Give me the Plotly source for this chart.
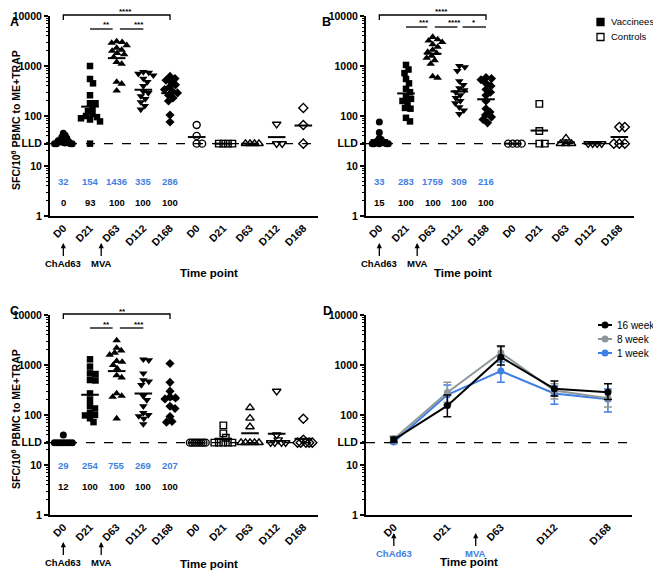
import math
import plotly.graph_objects as go

PAGE_OFFSET = 8  # default body margin of the html page
W, H = 661 - PAGE_OFFSET, 581 - PAGE_OFFSET
LLD = 28
days = ["D0", "D21", "D63", "D112", "D168"]

# ---------------- Panel A (16 week) ----------------
a_vacc_d0 = [45, 41, 38, 36, 35, 33, 32, 31, 30, 29, 28, 28, 28, 28]
a_vacc_d21 = [1000, 550, 450, 260, 180, 180, 145, 125, 110, 100, 95, 90, 85, 78, 28]
a_vacc_d63 = [3100, 3000, 2900, 2600, 2300, 2100, 2000, 1800, 1700, 1500, 1200, 1100, 480, 440, 320]
a_vacc_d112 = [760, 740, 700, 650, 560, 480, 400, 310, 290, 250, 220, 190, 160, 135]
a_vacc_d168 = [620, 560, 520, 480, 420, 380, 340, 310, 290, 260, 230, 200, 105, 76]
a_ctrl_d0 = [66, 40, 28, 28]
a_ctrl_d21 = [28, 28, 28, 28]
a_ctrl_d63 = [28, 28, 28, 28]
a_ctrl_d112 = [69, 28, 28]
a_ctrl_d168 = [145, 66, 28]
a_means = [32, 154, 1436, 335, 286]
a_responders = [0, 93, 100, 100, 100]

# ---------------- Panel B (8 week) ----------------
b_vacc_d0 = [76, 47, 36, 34, 32, 30, 30, 29, 28, 28, 28, 28, 28]
b_vacc_d21 = [1050, 850, 720, 550, 450, 350, 300, 240, 220, 200, 180, 145, 140, 92, 78]
b_vacc_d63 = [3800, 3400, 3200, 3000, 2700, 2400, 2100, 1900, 1800, 1600, 1450, 1300, 1100, 620, 580]
b_vacc_d112 = [1000, 950, 800, 500, 420, 360, 330, 300, 260, 230, 200, 180, 150, 130, 110]
b_vacc_d168 = [590, 560, 530, 450, 400, 340, 300, 260, 200, 140, 120, 105, 95, 85, 73]
b_ctrl_d0 = [28, 28, 28, 28]
b_ctrl_d21 = [175, 50, 28, 28]
b_ctrl_d63 = [36, 28, 28, 28]
b_ctrl_d112 = [28, 28, 28, 28]
b_ctrl_d168 = [60, 60, 28, 28, 28]
b_means = [33, 283, 1759, 309, 216]
b_responders = [15, 100, 100, 100, 100]

# ---------------- Panel C (1 week) ----------------
c_vacc_d0 = [40, 28, 28, 28, 28, 28, 28, 28]
c_vacc_d21 = [1300, 930, 680, 660, 500, 490, 270, 200, 150, 135, 110, 100, 98, 86, 72]
c_vacc_d63 = [3100, 2200, 1950, 1750, 1600, 1200, 1150, 1000, 850, 620, 560, 270, 240, 230, 85]
c_vacc_d112 = [1300, 1250, 680, 500, 470, 400, 240, 200, 150, 110, 100, 95, 85, 66]
c_vacc_d168 = [1070, 450, 300, 230, 220, 210, 150, 135, 93, 74, 72]
c_ctrl_d0 = [28, 28, 28, 28, 28, 28, 28, 28]
c_ctrl_d21 = [62, 43, 35, 28, 28, 28, 28, 28]
c_ctrl_d63 = [140, 86, 58, 28, 28, 28, 28, 28]
c_ctrl_d112 = [300, 40, 32, 28, 28, 28, 28]
c_ctrl_d168 = [84, 32, 28, 28, 28, 28, 28]
c_means = [29, 254, 755, 269, 207]
c_responders = [12, 100, 100, 100, 100]

# ---------------- Panel D (means with error bars) ----------------
week16_mean = a_means
week16_upper = [36, 250, 2400, 480, 420]
week16_lower = [29, 92, 1000, 240, 205]
week8_mean = b_means
week8_upper = [38, 450, 2300, 420, 300]
week8_lower = [28, 180, 1350, 210, 145]
week1_mean = c_means
week1_upper = [32, 400, 1150, 380, 330]
week1_lower = [27, 160, 450, 165, 115]

BLUE = "#3f7fe3"
GREY = "#8f979b"
FONT = "Liberation Sans"


def px(x):
    return (x - PAGE_OFFSET) / W


def py(y):
    return 1 - (y - PAGE_OFFSET) / H


# axis layout in window pixels: (left, right, top, bottom)
boxes = {
    "A": (50, 318, 16, 216),
    "B": (366, 634, 16, 216),
    "C": (50, 318, 315, 515),
    "D": (366, 632, 315, 515),
}
XR_ABC = [-0.5, 9.55]
XR_D = [-0.52, 4.45]

fig = go.Figure()


def swarm(values, center, unit_px, d=5.2, maxoff=12.0):
    n = len(values)
    order = sorted(range(n), key=lambda i: -values[i])
    placed = []
    offs = [0.0] * n
    cands = [0.0]
    for k in range(1, 80):
        cands += [k * 0.5, -k * 0.5]
    for i in order:
        yv = math.log10(values[i]) * 50
        chosen = cands[-1]
        for c in cands:
            if all((c - pxx) ** 2 + (yv - pyy) ** 2 >= d * d for pxx, pyy in placed):
                chosen = c
                break
        placed.append((chosen, yv))
        offs[i] = chosen
    m = max(abs(o) for o in offs) if offs else 0
    if m > maxoff:
        offs = [o * maxoff / m for o in offs]
    return [center + o / unit_px for o in offs]


def gmean(v):
    return 10 ** (sum(math.log10(x) for x in v) / len(v))


symbols = ["circle", "square", "triangle-up", "triangle-down", "diamond"]
sizes = [7, 6.5, 7.5, 7.5, 7]

panels_abc = [
    ("A", "", [a_vacc_d0, a_vacc_d21, a_vacc_d63, a_vacc_d112, a_vacc_d168],
     [a_ctrl_d0, a_ctrl_d21, a_ctrl_d63, a_ctrl_d112, a_ctrl_d168], a_means, a_responders),
    ("B", "2", [b_vacc_d0, b_vacc_d21, b_vacc_d63, b_vacc_d112, b_vacc_d168],
     [b_ctrl_d0, b_ctrl_d21, b_ctrl_d63, b_ctrl_d112, b_ctrl_d168], b_means, b_responders),
    ("C", "3", [c_vacc_d0, c_vacc_d21, c_vacc_d63, c_vacc_d112, c_vacc_d168],
     [c_ctrl_d0, c_ctrl_d21, c_ctrl_d63, c_ctrl_d112, c_ctrl_d168], c_means, c_responders),
]

annotations = []
shapes = []
layout_axes = {}

minor_vals = [m * 10 ** k for k in range(4) for m in range(2, 10)]


def yaxis_cfg(box):
    l, r, t, b = box
    return dict(
        type="log", range=[0, 4], domain=[py(b), py(t)], automargin=False,
        tickvals=[1, 10, LLD, 100, 1000, 10000],
        ticktext=["1", "10", "LLD", "100", "1000", "10000"],
        ticks="outside", ticklen=4, tickwidth=1.5, tickcolor="black",
        showline=True, linewidth=2, linecolor="black",
        showgrid=False, zeroline=False,
        minor=dict(tickvals=minor_vals, ticks="outside", ticklen=2.5, tickwidth=1, tickcolor="black", showgrid=False),
        tickfont=dict(family=FONT, size=10.5, color="black", weight="bold"),
    )


def xaxis_cfg(box, rng, vals, texts):
    l, r, t, b = box
    return dict(
        domain=[px(l), px(r)], range=rng, automargin=False,
        tickvals=vals, ticktext=texts, tickangle=-45,
        ticks="", showline=True, linewidth=2, linecolor="black",
        showgrid=False, zeroline=False,
        tickfont=dict(family=FONT, size=10.5, color="black", weight="bold"),
    )


def xdomfrac(x, rng):
    return (x - rng[0]) / (rng[1] - rng[0])


def ydomfrac(ypix, box):
    l, r, t, b = box
    return (b - ypix) / (b - t)


for name, s, vacc, ctrl, means, resp in panels_abc:
    box = boxes[name]
    l, r, t, b = box
    unit = (r - l) / (XR_ABC[1] - XR_ABC[0])
    xa = "x" + s
    ya = "y" + s
    cols = vacc + ctrl
    for j, vals in enumerate(cols):
        k = j % 5
        lim = 9 if (j == 0 or j >= 5) else 12
        xs = swarm(vals, j, unit, maxoff=lim)
        if j < 5:
            mk = dict(symbol=symbols[k], size=sizes[k], color="black", line=dict(width=0))
            mline = means[k]
        else:
            mk = dict(symbol=symbols[k] + "-open", size=sizes[k], color="black",
                      line=dict(width=1.4, color="black"))
            mline = gmean(vals)
        fig.add_trace(go.Scatter(x=xs, y=vals, mode="markers", marker=mk,
                                 xaxis=xa, yaxis=ya, cliponaxis=False, hoverinfo="skip"))
        fig.add_trace(go.Scatter(x=[j - 0.33, j + 0.33], y=[mline, mline], mode="lines",
                                 line=dict(color="black", width=2), xaxis=xa, yaxis=ya,
                                 hoverinfo="skip"))
    layout_axes["xaxis" + s] = xaxis_cfg(box, XR_ABC, list(range(10)), days + days)
    layout_axes["xaxis" + s]["anchor"] = ya
    layout_axes["yaxis" + s] = yaxis_cfg(box)
    layout_axes["yaxis" + s]["anchor"] = xa
    # LLD dashed line
    shapes.append(dict(type="line", xref=xa + " domain", yref=ya + " domain",
                       x0=0, x1=1, y0=math.log10(LLD) / 4, y1=math.log10(LLD) / 4,
                       line=dict(color="black", width=1.4, dash="dash")))
    # numbers
    for k in range(5):
        annotations.append(dict(x=k, y=py(b - 42), xref=xa, yref="paper", text=str(means[k]),
                                showarrow=False, font=dict(family=FONT, size=9.5, color=BLUE, weight="bold")))
        annotations.append(dict(x=k, y=py(b - 21), xref=xa, yref="paper", text=str(resp[k]),
                                showarrow=False, font=dict(family=FONT, size=9.5, color="black", weight="bold")))
    # arrows
    for k, lab in [(0, "ChAd63"), (1.42, "MVA")]:
        annotations.append(dict(x=k, y=py(b + 27), xref=xa, yref="paper", text=lab,
                                showarrow=True, arrowhead=2, arrowsize=0.8, arrowwidth=1.3,
                                arrowcolor="black", ax=0, ay=20,
                                font=dict(family=FONT, size=9.5, color="black", weight="bold")))
    annotations.append(dict(x=px((l + r) / 2 - 6), y=py(b + 57), xref="paper", yref="paper",
                            text="Time point", showarrow=False,
                            font=dict(family=FONT, size=11.5, color="black", weight="bold")))

# significance brackets
sig = {
    "A": [(0, 4, "****", "top"), (1.0, 1.85, "**", "low"), (2.12, 3.0, "***", "low")],
    "B": [(0, 4, "****", "top"), (1.0, 1.8, "***", "low"), (2.08, 2.93, "****", "low"), (3.12, 4.0, "*", "low")],
    "C": [(0, 4, "**", "top"), (1.0, 1.85, "**", "low"), (2.12, 3.0, "***", "low")],
}
sfx = {"A": "", "B": "2", "C": "3"}
for name, items in sig.items():
    box = boxes[name]
    l, r, t, b = box
    xa = "x" + sfx[name] + " domain"
    ya = "y" + sfx[name] + " domain"
    for x0, x1, txt, kind in items:
        if kind == "top":
            yl = t - 1
            shapes.append(dict(type="path", xref=xa, yref=ya,
                               path="M %f,%f L %f,%f L %f,%f L %f,%f" % (
                                   xdomfrac(x0, XR_ABC), ydomfrac(yl + 5, box),
                                   xdomfrac(x0, XR_ABC), ydomfrac(yl, box),
                                   xdomfrac(x1, XR_ABC), ydomfrac(yl, box),
                                   xdomfrac(x1, XR_ABC), ydomfrac(yl + 5, box)),
                               line=dict(color="black", width=1.3)))
            ty = yl - 3
        else:
            yl = t + 13 if name != "B" else t + 11
            shapes.append(dict(type="line", xref=xa, yref=ya,
                               x0=xdomfrac(x0, XR_ABC), x1=xdomfrac(x1, XR_ABC),
                               y0=ydomfrac(yl, box), y1=ydomfrac(yl, box),
                               line=dict(color="black", width=1.3)))
            ty = yl - 4
        annotations.append(dict(x=xdomfrac((x0 + x1) / 2, XR_ABC), y=ydomfrac(ty, box), xref=xa, yref=ya,
                                text=txt, showarrow=False, yanchor="middle",
                                font=dict(family=FONT, size=8, color="black", weight="bold")))

# ---------------- Panel D ----------------
boxD = boxes["D"]
lD, rD, tD, bD = boxD
for mean, up, lo, col, nm in [
    (week1_mean, week1_upper, week1_lower, BLUE, "1 week"),
    (week8_mean, week8_upper, week8_lower, GREY, "8 week"),
    (week16_mean, week16_upper, week16_lower, "black", "16 week"),
]:
    fig.add_trace(go.Scatter(
        x=list(range(5)), y=mean, mode="lines+markers",
        line=dict(color=col, width=2), marker=dict(symbol="circle", size=7, color=col),
        error_y=dict(type="data", symmetric=False,
                     array=[u - m for u, m in zip(up, mean)],
                     arrayminus=[m - v for m, v in zip(mean, lo)],
                     color=col, thickness=1.5, width=4),
        xaxis="x4", yaxis="y4", hoverinfo="skip"))
layout_axes["xaxis4"] = xaxis_cfg(boxD, XR_D, list(range(5)), days)
layout_axes["xaxis4"]["anchor"] = "y4"
layout_axes["yaxis4"] = yaxis_cfg(boxD)
layout_axes["yaxis4"]["anchor"] = "x4"
shapes.append(dict(type="line", xref="x4 domain", yref="y4 domain",
                   x0=0, x1=1, y0=math.log10(LLD) / 4, y1=math.log10(LLD) / 4,
                   line=dict(color="black", width=1.4, dash="dash")))
for k, lab in [(0, "ChAd63"), (1.53, "MVA")]:
    annotations.append(dict(x=k, y=py(bD + 18), xref="x4", yref="paper", text=lab,
                            showarrow=True, arrowhead=2, arrowsize=0.8, arrowwidth=1.3,
                            arrowcolor="black", ax=0, ay=20,
                            font=dict(family=FONT, size=9.5, color=BLUE, weight="bold")))
annotations.append(dict(x=px(500), y=py(570), xref="paper", yref="paper", text="Time point",
                        showarrow=False, font=dict(family=FONT, size=11.5, color="black", weight="bold")))

# legend D
for i, (col, nm) in enumerate([("black", "16 week"), (GREY, "8 week"), (BLUE, "1 week")]):
    yy = 325 + 14 * i
    shapes.append(dict(type="line", xref="paper", yref="paper", x0=px(598), x1=px(612),
                       y0=py(yy), y1=py(yy), line=dict(color=col, width=2)))
    shapes.append(dict(type="circle", xref="paper", yref="paper", x0=px(601.5), x1=px(608.5),
                       y0=py(yy + 3.5), y1=py(yy - 3.5), fillcolor=col, line=dict(width=0)))
    annotations.append(dict(x=px(615), y=py(yy), xref="paper", yref="paper", text=nm,
                            xanchor="left", yanchor="middle", showarrow=False,
                            font=dict(family=FONT, size=10, color="black")))

# legend B
for i, (fill, nm) in enumerate([("black", "Vaccinees"), ("white", "Controls")]):
    yy = 22 + 15 * i
    shapes.append(dict(type="rect", xref="paper", yref="paper", x0=px(597), x1=px(604),
                       y0=py(yy + 3.5), y1=py(yy - 3.5), fillcolor=fill,
                       line=dict(color="black", width=1.3)))
    annotations.append(dict(x=px(609), y=py(yy), xref="paper", yref="paper", text=nm,
                            xanchor="left", yanchor="middle", showarrow=False,
                            font=dict(family=FONT, size=9.5, color="black")))

# y titles
for yc in [120, 419]:
    annotations.append(dict(x=px(15), y=py(yc), xref="paper", yref="paper",
                            text="SFC/10<sup>6</sup> PBMC to ME+TRAP", textangle=-90,
                            showarrow=False, xanchor="center", yanchor="middle",
                            font=dict(family=FONT, size=10.5, color="black", weight="bold")))

# panel letters
for lab, x, y in [("A", 8, 13), ("B", 326, 13), ("C", 8, 311), ("D", 327, 311)]:
    annotations.append(dict(x=px(x), y=py(y), xref="paper", yref="paper", text=lab,
                            showarrow=False, font=dict(family=FONT, size=12.5, color="black", weight="bold")))

fig.update_layout(
    width=W, height=H, margin=dict(l=0, r=0, t=0, b=0),
    plot_bgcolor="white", paper_bgcolor="white", showlegend=False,
    annotations=annotations, shapes=shapes, **layout_axes,
)

fig.write_html("out.html")
